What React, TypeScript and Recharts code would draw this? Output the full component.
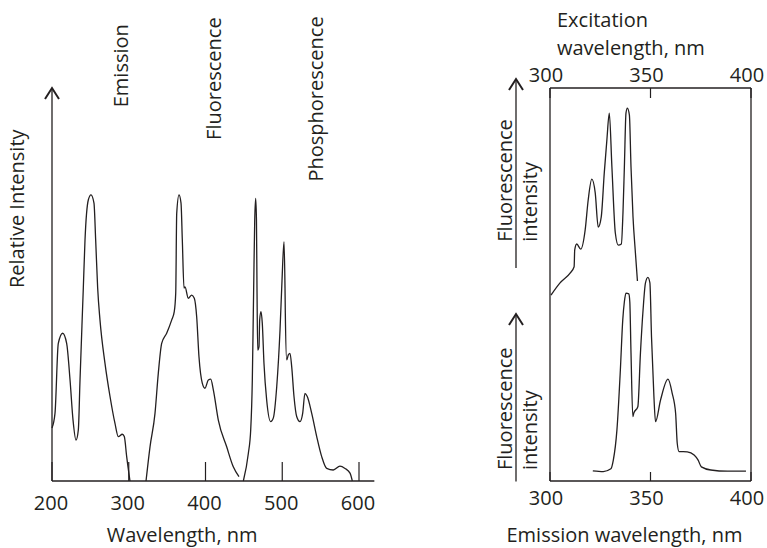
import { LineChart, Line, XAxis, YAxis, ReferenceDot } from 'recharts';

const FONT = '"Open Sans", sans-serif';
const INK = '#231f20';

// Left panel: wavelength (nm) vs relative intensity
const emissionBand = [
  { nm: 200, v: 13.5 }, { nm: 203.9, v: 17.2 }, { nm: 208.2, v: 35 }, { nm: 213.9, v: 37.6 },
  { nm: 219.1, v: 35 }, { nm: 223.5, v: 25.7 }, { nm: 227.4, v: 15.5 }, { nm: 231.3, v: 10.4 },
  { nm: 234.3, v: 13 }, { nm: 236.5, v: 25.7 }, { nm: 240.8, v: 49.1 }, { nm: 243, v: 61.3 },
  { nm: 247.3, v: 71.5 }, { nm: 250.8, v: 72.8 }, { nm: 254.7, v: 70.7 }, { nm: 256.9, v: 61.3 },
  { nm: 259.5, v: 49.1 }, { nm: 262.5, v: 41 }, { nm: 269, v: 30 }, { nm: 275.6, v: 21.5 },
  { nm: 282, v: 14.7 }, { nm: 286.4, v: 11.3 }, { nm: 291.6, v: 11.9 }, { nm: 294.2, v: 11.3 },
  { nm: 297.3, v: 6.2 }, { nm: 301.6, v: 0 },
];

const fluorescenceBand = [
  { nm: 322.5, v: 0 }, { nm: 327.7, v: 8.7 }, { nm: 334.2, v: 17.2 }, { nm: 338.5, v: 27.4 },
  { nm: 342.9, v: 35 }, { nm: 349.4, v: 37.6 }, { nm: 356, v: 41 }, { nm: 359.3, v: 43.1 },
  { nm: 361.2, v: 47.8 }, { nm: 362.5, v: 68.1 }, { nm: 365.5, v: 72.8 }, { nm: 368.1, v: 70.7 },
  { nm: 369.8, v: 61.3 }, { nm: 372, v: 49.1 }, { nm: 373.3, v: 49.4 }, { nm: 377.6, v: 46.5 },
  { nm: 382, v: 47.3 }, { nm: 385.4, v: 46.5 }, { nm: 388.5, v: 41.8 }, { nm: 391.5, v: 31.6 },
  { nm: 395.8, v: 24.9 }, { nm: 399.3, v: 23.6 }, { nm: 403.7, v: 25.7 }, { nm: 406.8, v: 25.9 },
  { nm: 410.2, v: 23.2 }, { nm: 416.7, v: 15.5 }, { nm: 427.6, v: 8.7 }, { nm: 436.2, v: 3.6 },
  { nm: 443.6, v: 1.1 },
];

const phosphorescenceBand = [
  { nm: 449.3, v: 0 }, { nm: 455.8, v: 7 }, { nm: 458.9, v: 13 }, { nm: 461, v: 25.7 },
  { nm: 462.3, v: 42.7 }, { nm: 463.2, v: 55 }, { nm: 464.1, v: 66 }, { nm: 465.4, v: 71.9 },
  { nm: 466.4, v: 66.4 }, { nm: 467.1, v: 49.1 }, { nm: 468, v: 33.3 }, { nm: 469.7, v: 34.2 },
  { nm: 470.6, v: 41 }, { nm: 472.3, v: 43.1 }, { nm: 474, v: 40.1 }, { nm: 476.2, v: 29.9 },
  { nm: 479.7, v: 20.6 }, { nm: 484.9, v: 15.1 }, { nm: 488.3, v: 16 }, { nm: 492.8, v: 24 },
  { nm: 497.1, v: 38.4 }, { nm: 499.7, v: 51.1 }, { nm: 502.3, v: 60.9 }, { nm: 503.6, v: 49.1 },
  { nm: 504, v: 42.7 }, { nm: 505.8, v: 30.8 }, { nm: 507.9, v: 32.1 }, { nm: 510.1, v: 32.5 },
  { nm: 512.3, v: 29.1 }, { nm: 515.3, v: 21.5 }, { nm: 518.8, v: 16.4 }, { nm: 523.1, v: 15.1 },
  { nm: 526.6, v: 17.2 }, { nm: 529.6, v: 22.3 }, { nm: 532.6, v: 21.5 }, { nm: 538.4, v: 17.2 },
  { nm: 544.9, v: 11.3 }, { nm: 551.4, v: 6.2 }, { nm: 557.9, v: 3.2 }, { nm: 566.5, v: 2.8 },
  { nm: 575.2, v: 3.8 }, { nm: 581.8, v: 3.2 }, { nm: 588.3, v: 2 }, { nm: 591.3, v: 0 },
];

const leftTicks = [200, 300, 400, 500, 600];

const bandLabels = [
  { name: 'Emission', nm: 298.6, v: 95.1 },
  { name: 'Fluorescence', nm: 420.2, v: 86.8 },
  { name: 'Phosphorescence', nm: 553.7, v: 76.2 },
];

// Right panel: excitation (top axis) and emission (bottom axis) spectra
const excitationSpectrum = [
  { nm: 300.5, v: 47.3 }, { nm: 305, v: 50.4 }, { nm: 310, v: 52.9 }, { nm: 312, v: 54.5 },
  { nm: 312.3, v: 58.8 }, { nm: 313.3, v: 60.3 }, { nm: 315.3, v: 59 }, { nm: 317.5, v: 63.9 },
  { nm: 319, v: 71.5 }, { nm: 320.8, v: 76.8 }, { nm: 322.5, v: 73.3 }, { nm: 324, v: 64.6 },
  { nm: 325.5, v: 67.2 }, { nm: 327, v: 78.4 }, { nm: 328.3, v: 86.8 }, { nm: 329.5, v: 93.6 },
  { nm: 330.8, v: 79.9 }, { nm: 332.5, v: 63.1 }, { nm: 334, v: 60 }, { nm: 335.5, v: 60.3 },
  { nm: 336.3, v: 68.2 }, { nm: 337, v: 79.9 }, { nm: 337.8, v: 93.6 }, { nm: 338.5, v: 94.9 },
  { nm: 339.5, v: 93.1 }, { nm: 340.3, v: 79.9 }, { nm: 341.3, v: 67.2 }, { nm: 342.5, v: 58 },
  { nm: 343.5, v: 50.9 },
];

const emissionSpectrum = [
  { nm: 321.3, v: 2.6 }, { nm: 326.5, v: 2.4 }, { nm: 330.3, v: 3.1 }, { nm: 331.5, v: 5.3 },
  { nm: 333.3, v: 13 }, { nm: 335, v: 28.2 }, { nm: 336.2, v: 41 }, { nm: 337, v: 45.6 },
  { nm: 337.8, v: 47.8 }, { nm: 339.2, v: 47.6 }, { nm: 339.7, v: 45.6 }, { nm: 340.3, v: 32.6 },
  { nm: 341.2, v: 16.4 }, { nm: 341.7, v: 17.3 }, { nm: 343.7, v: 18.9 }, { nm: 345, v: 32.6 },
  { nm: 346.3, v: 43.5 }, { nm: 347.5, v: 50.4 }, { nm: 348.7, v: 51.8 }, { nm: 349.7, v: 50.4 },
  { nm: 350.5, v: 36.7 }, { nm: 351.7, v: 21.5 }, { nm: 352.5, v: 15.1 }, { nm: 355, v: 20.6 },
  { nm: 358.7, v: 25.9 }, { nm: 360.8, v: 22.3 }, { nm: 362.5, v: 17.2 }, { nm: 363.3, v: 9.6 },
  { nm: 364.2, v: 7.5 }, { nm: 368.3, v: 7.4 }, { nm: 371.7, v: 6.6 }, { nm: 373.7, v: 5.3 },
  { nm: 375.3, v: 3.6 }, { nm: 380, v: 2.8 }, { nm: 388.3, v: 2.5 }, { nm: 397.5, v: 2.5 },
];

const rightTicks = [300, 350, 400];

function VText({ x, y, children }: { x: number; y: number; children: string }) {
  return (
    <text x={x} y={y} transform={`rotate(-90 ${x} ${y})`} fontSize={20} fill={INK} fontFamily={FONT}>
      {children}
    </text>
  );
}

function Arrow({ x, top, bottom }: { x: number; top: number; bottom: number }) {
  return (
    <g>
      <line x1={x} x2={x} y1={top} y2={bottom} stroke={INK} strokeWidth={1.3} />
      <polyline
        points={`${x - 7},${top + 11} ${x},${top} ${x + 7},${top + 11}`}
        fill="none"
        stroke={INK}
        strokeWidth={2}
      />
    </g>
  );
}

// tick = short inward line + number label
const makeTick = (len: number, labelDy: number, dx: number) => (props: any) => {
  const { x, y, payload } = props;
  return (
    <g>
      <line x1={x} x2={x} y1={y} y2={y + len} stroke={INK} strokeWidth={1.2} />
      <text x={x + dx} y={y + labelDy} textAnchor="middle" fontSize={20} fill={INK} fontFamily={FONT}>
        {payload.value}
      </text>
    </g>
  );
};

const axisLine = { stroke: INK, strokeWidth: 1.3 };

export default function App() {
  return (
    <div style={{ position: 'absolute', left: 0, top: 0, width: 767, height: 548, background: '#fff' }}>
      {/* Left: emission / fluorescence / phosphorescence */}
      <div style={{ position: 'absolute', left: 0, top: 0 }}>
        <LineChart width={400} height={548} margin={{ top: 88, right: 25.65, bottom: 66, left: 51 }}>
          <XAxis
            dataKey="nm"
            type="number"
            domain={[200, 620]}
            ticks={leftTicks}
            height={1}
            tickSize={0}
            tickMargin={0}
            tickLine={false}
            axisLine={axisLine}
            tick={makeTick(-19, 29, -1)}
            label={{
              content: (p: any) => (
                <text
                  x={p.viewBox.x + p.viewBox.width / 2 - 31}
                  y={p.viewBox.y + 61}
                  textAnchor="middle"
                  fontSize={20}
                  fill={INK}
                  fontFamily={FONT}
                >
                  Wavelength, nm
                </text>
              ),
            }}
          />
          <YAxis
            type="number"
            domain={[0, 100]}
            width={1}
            tick={false}
            tickLine={false}
            axisLine={axisLine}
            label={{
              content: (p: any) => {
                const ax = p.viewBox.x + p.viewBox.width;
                return (
                  <g>
                    <Arrow x={ax} top={p.viewBox.y} bottom={p.viewBox.y} />
                    <VText x={ax - 28} y={p.viewBox.y + 200}>Relative Intensity</VText>
                  </g>
                );
              },
            }}
          />
          <Line data={emissionBand} dataKey="v" type="monotone" stroke={INK} strokeWidth={1.3} dot={false} isAnimationActive={false} />
          <Line data={fluorescenceBand} dataKey="v" type="monotone" stroke={INK} strokeWidth={1.3} dot={false} isAnimationActive={false} />
          <Line data={phosphorescenceBand} dataKey="v" type="monotone" stroke={INK} strokeWidth={1.3} dot={false} isAnimationActive={false} />
          {bandLabels.map((b) => (
            <ReferenceDot
              key={b.name}
              x={b.nm}
              y={b.v}
              r={0}
              fill="none"
              stroke="none"
              label={{ content: (p: any) => <VText x={p.viewBox.x} y={p.viewBox.y}>{b.name}</VText> }}
            />
          ))}
        </LineChart>
      </div>

      {/* Right: excitation and emission spectra */}
      <div style={{ position: 'absolute', left: 420, top: 0 }}>
        <LineChart width={347} height={548} margin={{ top: 87, right: 15, bottom: 66, left: 129 }}>
          <XAxis
            xAxisId="bottom"
            dataKey="nm"
            type="number"
            domain={[300, 400]}
            ticks={rightTicks}
            height={1}
            tickSize={0}
            tickMargin={0}
            tickLine={false}
            axisLine={axisLine}
            tick={makeTick(-9, 24, -4)}
            label={{
              content: (p: any) => (
                <text
                  x={p.viewBox.x + p.viewBox.width / 2 - 26}
                  y={p.viewBox.y + 61}
                  textAnchor="middle"
                  fontSize={20}
                  fill={INK}
                  fontFamily={FONT}
                >
                  Emission wavelength, nm
                </text>
              ),
            }}
          />
          <XAxis
            xAxisId="top"
            orientation="top"
            dataKey="nm"
            type="number"
            domain={[300, 400]}
            ticks={rightTicks}
            height={1}
            tickSize={0}
            tickMargin={0}
            tickLine={false}
            axisLine={axisLine}
            tick={makeTick(10, -6, -4)}
            label={{
              content: (p: any) => {
                const ay = p.viewBox.y + p.viewBox.height;
                return (
                  <g fontSize={20} fill={INK} fontFamily={FONT}>
                    <text x={p.viewBox.x + 7} y={ay - 60.7}>Excitation</text>
                    <text x={p.viewBox.x + 7} y={ay - 33.5}>wavelength, nm</text>
                  </g>
                );
              },
            }}
          />
          <YAxis
            yAxisId="left"
            type="number"
            domain={[0, 100]}
            width={1}
            tick={false}
            tickLine={false}
            axisLine={axisLine}
            label={{
              content: (p: any) => {
                const x = p.viewBox.x + p.viewBox.width;
                const y = p.viewBox.y;
                return (
                  <g>
                    <Arrow x={x - 34} top={y - 9} bottom={y + 180} />
                    <VText x={x - 38.3} y={y + 153.7}>Fluorescence</VText>
                    <VText x={x - 13} y={y + 153.7}>intensity</VText>
                    <Arrow x={x - 34} top={y + 226} bottom={y + 393.5} />
                    <VText x={x - 38.3} y={y + 382}>Fluorescence</VText>
                    <VText x={x - 13} y={y + 382}>intensity</VText>
                  </g>
                );
              },
            }}
          />
          <YAxis
            yAxisId="right"
            orientation="right"
            type="number"
            domain={[0, 100]}
            width={1}
            tick={false}
            tickLine={false}
            axisLine={axisLine}
          />
          <Line
            data={excitationSpectrum}
            xAxisId="top"
            yAxisId="left"
            dataKey="v"
            type="monotone"
            stroke={INK}
            strokeWidth={1.3}
            dot={false}
            isAnimationActive={false}
          />
          <Line
            data={emissionSpectrum}
            xAxisId="bottom"
            yAxisId="left"
            dataKey="v"
            type="monotone"
            stroke={INK}
            strokeWidth={1.3}
            dot={false}
            isAnimationActive={false}
          />
        </LineChart>
      </div>
    </div>
  );
}
